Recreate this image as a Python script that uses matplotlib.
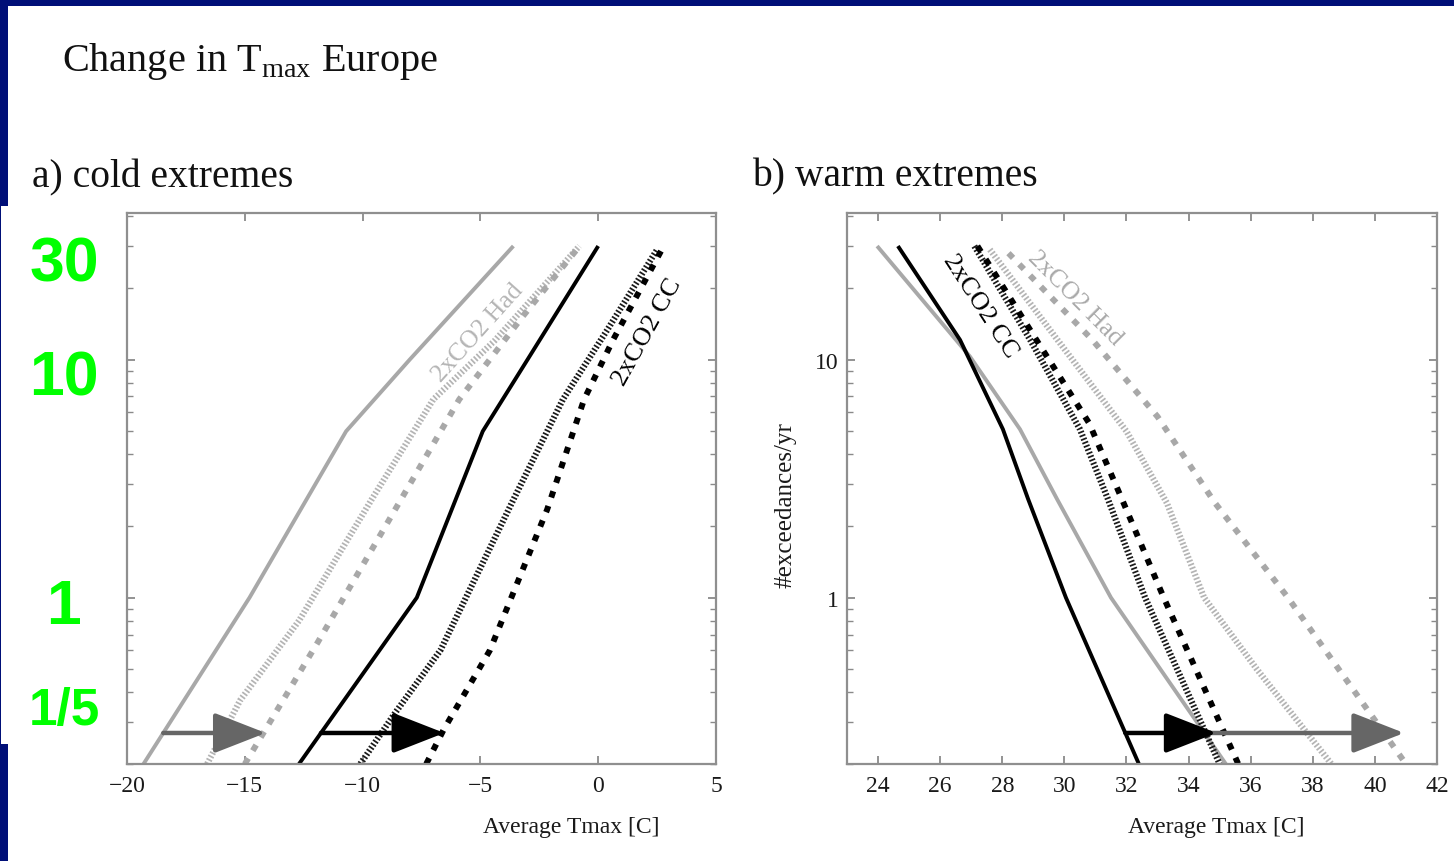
import numpy as np
import matplotlib
matplotlib.use('Agg')
import matplotlib.pyplot as plt
from matplotlib.patches import Rectangle, FancyArrowPatch
from matplotlib.ticker import FixedLocator, LogLocator, NullFormatter

plt.rcParams['font.family'] = ['Liberation Serif', 'DejaVu Serif']
plt.rcParams['mathtext.fontset'] = 'custom'
plt.rcParams['mathtext.rm'] = 'Liberation Serif'
plt.rcParams['axes.unicode_minus'] = True

# ---- data ----
# a) cold extremes: temperature [C] vs exceedances/yr
cold_had_x = [-19.3, -14.8, -10.7, -8.0, -3.6]
cold_had_y = [0.2, 1, 5, 10, 30]
cold_cc_x = [-12.7, -7.7, -4.9, -3.0, 0.0]
cold_cc_y = [0.2, 1, 5, 10, 30]
cold_had_hatch_x = [-16.6, -15.2, -12.7, -9.6, -7.0, -4.4, -0.8]
cold_had_hatch_y = [0.2, 0.37, 0.8, 2.6, 6.8, 12, 30]
cold_had2x_x = [-15.0, -11.9, -8.95, -5.9, -3.2, -0.85]
cold_had2x_y = [0.2, 0.65, 2.06, 6.8, 15.2, 29.5]
cold_cc_hatch_x = [-10.1, -8.6, -6.7, -3.6, -1.5, 0.4, 2.5]
cold_cc_hatch_y = [0.2, 0.33, 0.6, 2.58, 6.8, 13.4, 29]
cold_cc2x_x = [-7.3, -6.55, -4.6, -2.17, -0.6, 0.63, 2.7]
cold_cc2x_y = [0.2, 0.28, 0.6, 2.34, 6.8, 12.1, 29]

# b) warm extremes
warm_had_x = [23.97, 26.96, 28.57, 29.76, 31.5, 35.2]
warm_had_y = [30, 10.3, 5.1, 2.6, 1, 0.2]
warm_cc_x = [24.64, 26.64, 28.02, 28.83, 30.05, 32.4]
warm_cc_y = [30, 12.1, 5.1, 2.6, 1, 0.2]
warm_cc_hatch_x = [27.1, 28.9, 30.5, 31.4, 32.6, 35.0]
warm_cc_hatch_y = [30, 12.1, 5.1, 2.6, 1, 0.2]
warm_cc2x_x = [27.2, 29.1, 30.8, 31.85, 33.2, 35.6]
warm_cc2x_y = [30, 12.1, 5.4, 2.6, 1, 0.2]
warm_had_hatch_x = [27.6, 29.8, 32.0, 33.3, 34.5, 36.2, 38.6]
warm_had_hatch_y = [29, 12, 5, 2.5, 1, 0.5, 0.2]
warm_had2x_x = [28.2, 30.9, 33.0, 34.85, 37.2, 41.0]
warm_had2x_y = [28, 12.1, 5.76, 2.5, 1, 0.2]

arrow_level = 0.27
cold_xticks = [-20, -15, -10, -5, 0, 5]
warm_xticks = [24, 26, 28, 30, 32, 34, 36, 38, 40, 42]
green_labels = ['30', '10', '1', '1/5']

# ---- figure ----
W, H = 1454, 862
fig = plt.figure(figsize=(W / 100, H / 100), dpi=100)
fig.patch.set_facecolor('white')

def fx(p):
    return p / W

def fy(p):
    return 1 - p / H

NAVY = '#000f78'
GRAY = '#a8a8a8'
LGRAY = '#b4b4b4'
hatch = (0, (0.28, 0.32))
dash = (0, (1.1, 1.5))

axL = fig.add_axes([fx(127), fy(765), fx(589), 551 / H])
axR = fig.add_axes([fx(847), fy(765), fx(590), 551 / H])


def curve(ax, x, y, color, ls, lw):
    ax.plot(x, y, color=color, linestyle=ls, lw=lw,
            solid_capstyle='butt', dash_capstyle='butt',
            solid_joinstyle='round')


def cross(x, y, level):
    # x where the curve meets the given exceedance level (log interpolation)
    ly = np.log10(y)
    order = np.argsort(ly)
    return np.interp(np.log10(level), ly[order], np.asarray(x)[order])


def arrow(ax, x0, x1, color):
    a = FancyArrowPatch((x0, arrow_level), (x1, arrow_level),
                        arrowstyle='-|>,head_length=32,head_width=12.5',
                        mutation_scale=1, lw=3.2, color=color,
                        shrinkA=0, shrinkB=0, zorder=5)
    ax.add_patch(a)


# cold panel
curve(axL, cold_had_x, cold_had_y, GRAY, '-', 2.8)
curve(axL, cold_had_hatch_x, cold_had_hatch_y, LGRAY, hatch, 4.5)
curve(axL, cold_had2x_x, cold_had2x_y, GRAY, dash, 4.3)
curve(axL, cold_cc_x, cold_cc_y, 'black', '-', 2.8)
curve(axL, cold_cc_hatch_x, cold_cc_hatch_y, '#1a1a1a', hatch, 4.5)
curve(axL, cold_cc2x_x, cold_cc2x_y, 'black', dash, 4.3)

arrow(axL, cross(cold_had_x, cold_had_y, arrow_level),
      cross(cold_had2x_x, cold_had2x_y, arrow_level) + 0.1, '#666666')
arrow(axL, cross(cold_cc_x, cold_cc_y, arrow_level),
      cross(cold_cc2x_x, cold_cc2x_y, arrow_level) + 0.1, 'black')

axL.text(-5.1, 13.0, '2xCO2 Had', color='#b5b5b5', fontsize=18.5, rotation=48,
         ha='center', va='center', rotation_mode='anchor')
axL.text(2.1, 13.1, '2xCO2 CC', color='black', fontsize=19, rotation=61,
         ha='center', va='center', rotation_mode='anchor')

# warm panel
curve(axR, warm_had_x, warm_had_y, GRAY, '-', 2.8)
curve(axR, warm_cc_x, warm_cc_y, 'black', '-', 2.8)
curve(axR, warm_had_hatch_x, warm_had_hatch_y, LGRAY, hatch, 4.5)
curve(axR, warm_had2x_x, warm_had2x_y, GRAY, dash, 4.3)
curve(axR, warm_cc_hatch_x, warm_cc_hatch_y, '#1a1a1a', hatch, 4.5)
curve(axR, warm_cc2x_x, warm_cc2x_y, 'black', dash, 4.3)

arrow(axR, cross(warm_had_x, warm_had_y, arrow_level),
      cross(warm_had2x_x, warm_had2x_y, arrow_level) + 0.65, '#666666')
arrow(axR, cross(warm_cc_x, warm_cc_y, arrow_level),
      cross(warm_cc2x_x, warm_cc2x_y, arrow_level) - 0.25, 'black')

axR.text(27.28, 16.9, '2xCO2 CC', color='black', fontsize=19, rotation=-57,
         ha='center', va='center', rotation_mode='anchor')
axR.text(30.34, 18.2, '2xCO2 Had', color='#aaaaaa', fontsize=18.5, rotation=-45,
         ha='center', va='center', rotation_mode='anchor')

# axes styling
for ax in (axL, axR):
    ax.set_yscale('log')
    ax.set_ylim(0.2, 41.3)
    ax.yaxis.set_major_locator(FixedLocator([1, 10]))
    ax.yaxis.set_minor_locator(LogLocator(base=10, subs=np.arange(2, 10)))
    ax.yaxis.set_minor_formatter(NullFormatter())
    ax.tick_params(which='both', direction='in', top=True, right=True,
                   color='#8a8a8a', labelcolor='#1a1a1a')
    ax.tick_params(which='major', length=6, width=1.3, labelsize=17, pad=8)
    ax.tick_params(which='minor', length=4, width=1.0)
    for s in ax.spines.values():
        s.set_color('#8f8f8f')
        s.set_linewidth(1.6)
    ax.set_xlabel('Average Tmax [C]', fontsize=17, color='#1a1a1a')

axL.set_xlim(-20, 5)
axL.set_xticks(cold_xticks)
axL.tick_params(labelleft=False)
axL.xaxis.set_label_coords(0.755, -0.095)

axR.set_xlim(23, 42)
axR.set_xticks(warm_xticks)
axR.set_yticks([1, 10], ['1', '10'])
axR.tick_params(axis='y', which='major', pad=6)
axR.xaxis.set_label_coords(0.625, -0.095)
axR.set_ylabel('#exceedances/yr', fontsize=18, color='#1a1a1a')
axR.yaxis.set_label_coords(-0.085, 0.472)

# titles
fig.text(fx(62), fy(71), 'Change in T$_{\\rm max}$ Europe', fontsize=29,
         va='baseline', ha='left', color='#111111')
fig.text(fx(32), fy(187), 'a) cold extremes', fontsize=28.5,
         va='baseline', ha='left', color='#111111')
fig.text(fx(752), fy(186), 'b) warm extremes', fontsize=28.5,
         va='baseline', ha='left', color='#111111')

# slide frame and overlay box
fig.add_artist(Rectangle((0, fy(7)), 1, 7 / H, transform=fig.transFigure,
                         facecolor=NAVY, edgecolor='none', zorder=10))
fig.add_artist(Rectangle((0, 0), fx(8), 1, transform=fig.transFigure,
                         facecolor=NAVY, edgecolor='none', zorder=10))
fig.add_artist(Rectangle((fx(1), fy(745)), fx(122), (745 - 207) / H,
                         transform=fig.transFigure, facecolor='white',
                         edgecolor='none', zorder=11))

green_base = [282, 396, 624, 725]
green_size = [45, 45, 45, 37]
for lab, b, s in zip(green_labels, green_base, green_size):
    fig.text(fx(64), fy(b), lab, fontsize=s, fontweight='bold',
             family=['Liberation Sans', 'DejaVu Sans'], color='#00ff00',
             ha='center', va='baseline', zorder=12)

fig.savefig('out.png', dpi=100, facecolor='white')
